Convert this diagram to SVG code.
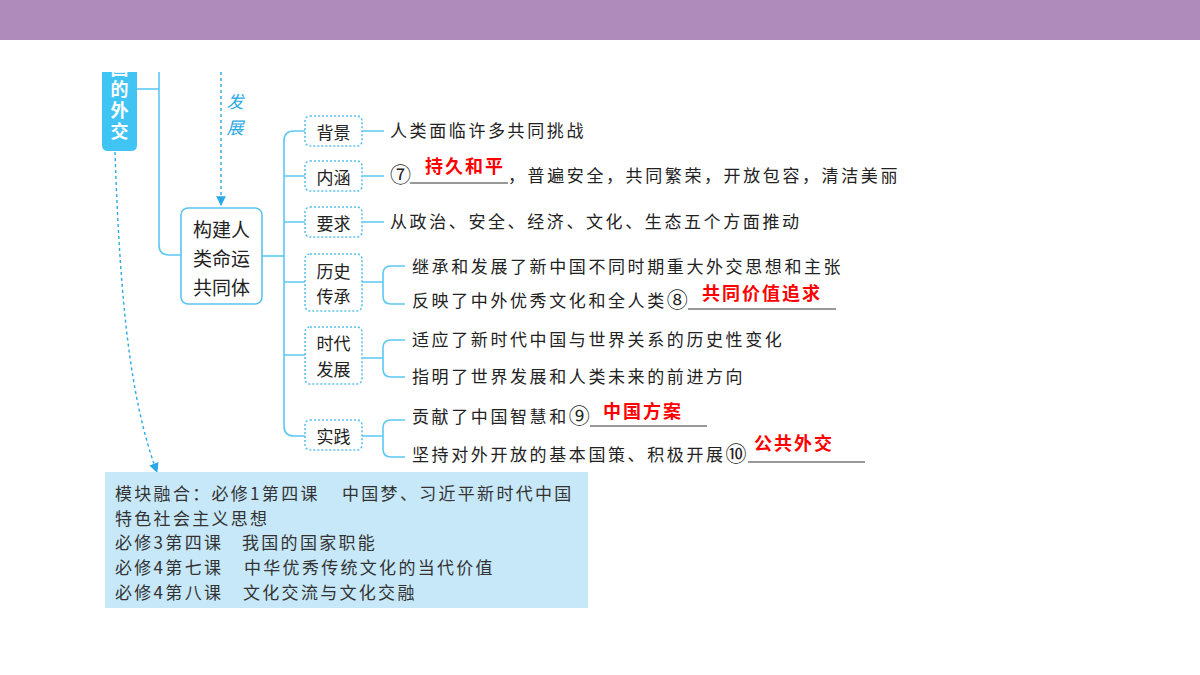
<svg xmlns="http://www.w3.org/2000/svg" width="1200" height="675" viewBox="0 0 1200 675">
<style>
text{font-family:"Noto Sans CJK SC","Noto Sans",sans-serif;dominant-baseline:central}
.t{font-size:17px;fill:#222;letter-spacing:2.6px}
.c{font-size:21px}
.m{font-size:17px;fill:#333;letter-spacing:2.3px}
.ans{font-size:18px;fill:#ff0000;font-weight:bold;letter-spacing:2px}
.box{fill:#fff;stroke:#5cc3ee;stroke-width:1.6;stroke-dasharray:2 2}
.ln{fill:none;stroke:#5cc8f4;stroke-width:1.6}
.ul{stroke:#333;stroke-width:1}
.lab{font-size:17px;fill:#222;text-anchor:middle}
.rt{font-size:18px;font-weight:bold;fill:#fff;writing-mode:vertical-rl;letter-spacing:3px}
</style>
<defs>
<marker id="arr" viewBox="0 0 10 10" refX="9" refY="5" markerWidth="7" markerHeight="7" orient="auto"><path d="M0,0 L10,5 L0,10 z" fill="#2aa9e6"/></marker>
<clipPath id="clipTop"><rect x="0" y="72" width="1200" height="603"/></clipPath>
</defs>
<rect x="0" y="0" width="1200" height="675" fill="#fff"/>
<rect x="0" y="0" width="1200" height="40" fill="#af8bbb"/>

<g id="connectors">
<path class="ln" d="M137,89 H159"/>
<path class="ln" d="M159,72 V245 Q159,255 169,255 H181" clip-path="url(#clipTop)"/>
<path d="M221,72 V205" fill="none" stroke="#2aa9e6" stroke-width="1.4" stroke-dasharray="3 3" marker-end="url(#arr)"/>
<path d="M115,152 C120,300 130,400 157,472" fill="none" stroke="#2aa9e6" stroke-width="1.4" stroke-dasharray="3 3" marker-end="url(#arr)"/>
<path class="ln" d="M262,256 H284"/>
<path class="ln" d="M305,131 H294 Q284,131 284,141 V426 Q284,436 294,436 H305"/>
<path class="ln" d="M284,176 H305 M284,222 H305 M284,282 H305 M284,355 H305"/>
<path class="ln" d="M362,131 H384 M362,176 H384 M362,222 H384"/>
<path class="ln" d="M362,282 H383 M405,266 H391 Q383,266 383,274 V296 Q383,304 391,304 H405"/>
<path class="ln" d="M362,358 H383 M405,340 H391 Q383,340 383,348 V369 Q383,377 391,377 H405"/>
<path class="ln" d="M362,436 H383 M405,420 H391 Q383,420 383,428 V449 Q383,457 391,457 H405"/>
</g>

<g id="node-root" clip-path="url(#clipTop)">
<path d="M102,60 H137 V145 Q137,151 131,151 H108 Q102,151 102,145 Z" fill="#40c4f4"/>
<text class="rt" x="119.5" y="59">国的外交</text>
</g>

<g id="label-fazhan">
<text x="235" y="100" font-size="17" fill="#2aa9e6" font-style="italic" text-anchor="middle">发</text>
<text x="235" y="126" font-size="17" fill="#2aa9e6" font-style="italic" text-anchor="middle">展</text>
</g>

<g id="node-center">
<rect x="181" y="208" width="81" height="96" rx="7" fill="#fff" stroke="#5cc3ee" stroke-width="1.6"/>
<text x="221.5" y="228" font-size="19" fill="#222" text-anchor="middle">构建人</text>
<text x="221.5" y="257" font-size="19" fill="#222" text-anchor="middle">类命运</text>
<text x="221.5" y="286" font-size="19" fill="#222" text-anchor="middle">共同体</text>
</g>

<g id="node-beijing">
<rect class="box" x="305" y="116" width="57" height="30" rx="5"/>
<text class="lab" x="333.5" y="131">背景</text>
<text class="t" x="390" y="129">人类面临许多共同挑战</text>
</g>

<g id="node-neihan">
<rect class="box" x="305" y="161" width="57" height="30" rx="5"/>
<text class="lab" x="333.5" y="176">内涵</text>
<text class="t c" x="390" y="173">⑦</text>
<line class="ul" x1="410" y1="183" x2="508" y2="183"/>
<text class="ans" x="425" y="165">持久和平</text>
<text class="t" x="508" y="174">，普遍安全，共同繁荣，开放包容，清洁美丽</text>
</g>

<g id="node-yaoqiu">
<rect class="box" x="305" y="207" width="57" height="30" rx="5"/>
<text class="lab" x="333.5" y="222">要求</text>
<text class="t" x="390" y="220">从政治、安全、经济、文化、生态五个方面推动</text>
</g>

<g id="node-lishi">
<rect class="box" x="305" y="254" width="57" height="57" rx="5"/>
<text class="lab" x="333.5" y="270">历史</text>
<text class="lab" x="333.5" y="295">传承</text>
<text class="t" x="412" y="265">继承和发展了新中国不同时期重大外交思想和主张</text>
<text class="t" x="412" y="299">反映了中外优秀文化和全人类<tspan class="c" dy="-1">⑧</tspan></text>
<line class="ul" x1="688" y1="309" x2="836" y2="309"/>
<text class="ans" x="702" y="292">共同价值追求</text>
</g>

<g id="node-shidai">
<rect class="box" x="305" y="327" width="57" height="57" rx="5"/>
<text class="lab" x="333.5" y="342">时代</text>
<text class="lab" x="333.5" y="368">发展</text>
<text class="t" x="412" y="338">适应了新时代中国与世界关系的历史性变化</text>
<text class="t" x="412" y="375">指明了世界发展和人类未来的前进方向</text>
</g>

<g id="node-shijian">
<rect class="box" x="305" y="420" width="57" height="30" rx="5"/>
<text class="lab" x="333.5" y="435">实践</text>
<text class="t" x="412" y="415">贡献了中国智慧和<tspan class="c" dy="-1">⑨</tspan></text>
<line class="ul" x1="590" y1="426" x2="707" y2="426"/>
<text class="ans" x="603" y="410">中国方案</text>
<text class="t" x="412" y="453">坚持对外开放的基本国策、积极开展<tspan class="c" dy="-1">⑩</tspan></text>
<line class="ul" x1="748" y1="462" x2="865" y2="462"/>
<text class="ans" x="754" y="442">公共外交</text>
</g>

<g id="node-module">
<rect x="105" y="472" width="483" height="136" fill="#c7e8f9"/>
<text class="m" x="115" y="492">模块融合：必修1第四课<tspan x="342">中国梦、习近平新时代中国</tspan></text>
<text class="m" x="115" y="517">特色社会主义思想</text>
<text class="m" x="115" y="541">必修3第四课<tspan x="242">我国的国家职能</tspan></text>
<text class="m" x="115" y="566">必修4第七课<tspan x="244">中华优秀传统文化的当代价值</tspan></text>
<text class="m" x="115" y="591">必修4第八课<tspan x="243">文化交流与文化交融</tspan></text>
</g>
</svg>
